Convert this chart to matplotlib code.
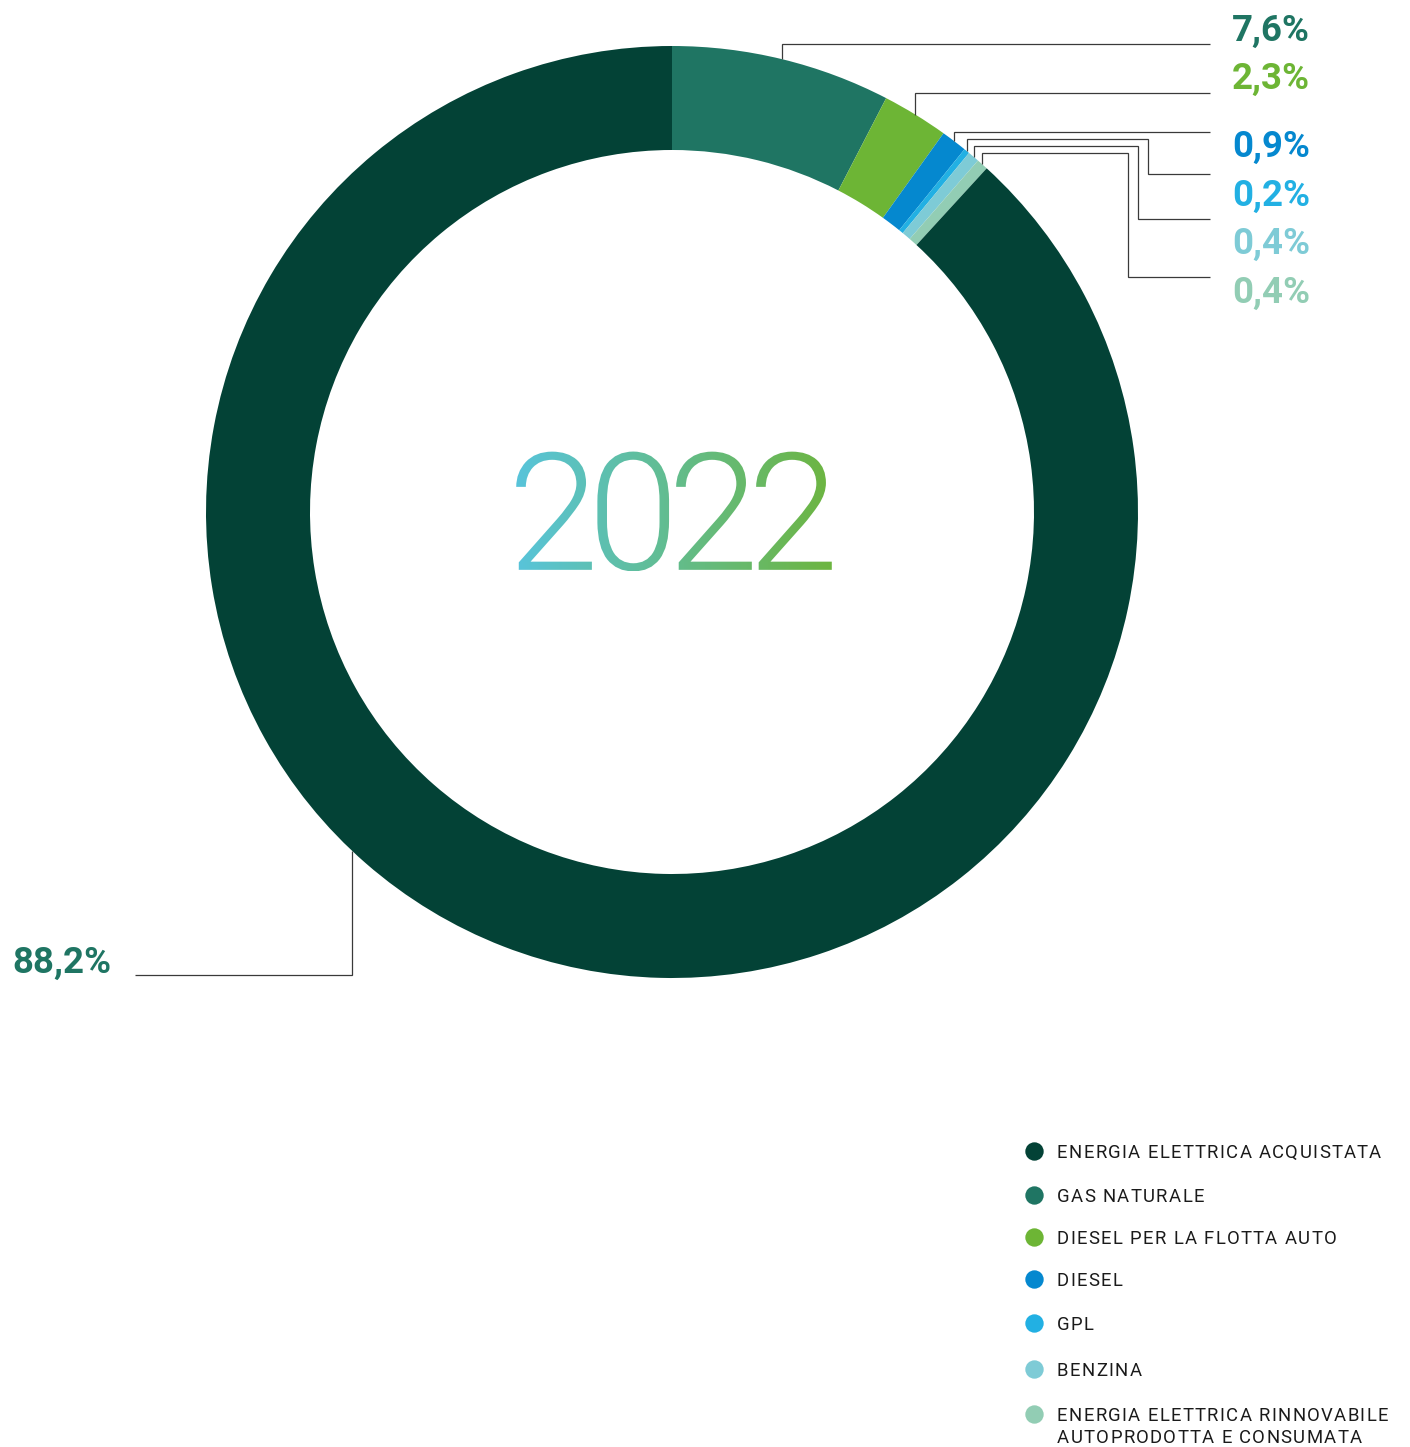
import numpy as np
import matplotlib.pyplot as plt
from matplotlib import font_manager
from matplotlib.colors import LinearSegmentedColormap
from matplotlib.font_manager import FontProperties
from matplotlib.ft2font import FT2Font
from matplotlib.patches import PathPatch
from matplotlib.path import Path
from matplotlib.textpath import TextPath
from matplotlib.transforms import Affine2D

# energy mix, share of total consumption (%)
categories = [
    "ENERGIA ELETTRICA ACQUISTATA",
    "GAS NATURALE",
    "DIESEL PER LA FLOTTA AUTO",
    "DIESEL",
    "GPL",
    "BENZINA",
    "ENERGIA ELETTRICA RINNOVABILE\nAUTOPRODOTTA E CONSUMATA",
]
shares = [88.2, 7.6, 2.3, 0.9, 0.2, 0.4, 0.4]
colors = ["#034236", "#1F7563", "#6DB535", "#0588CF", "#22B0E3", "#7ECBD6", "#92CDB4"]
label_colors = ["#1F7563", "#1F7563", "#6DB535", "#0588CF", "#22B0E3", "#7ECBD6", "#92CDB4"]
year = "2022"

# ring goes clockwise from 12 o'clock starting with the small sources
ring_order = [1, 2, 3, 4, 5, 6, 0]

W, H = 1410, 1447
DPI = 100
cx, cy = 672, H - 512
R, ring_w = 466, 104


def roboto_file(style_name):
    for f in font_manager.fontManager.ttflist:
        if f.fname.endswith("Roboto-" + style_name + ".ttf"):
            return f.fname
    return font_manager.findfont(FontProperties(family="Roboto"))


def advance_px(ft, ch, size_px):
    # horizontal advance of one glyph in pixels
    ft.set_size(size_px, 72)
    g = ft.load_char(ord(ch))
    return g.linearHoriAdvance / 65536


fig = plt.figure(figsize=(W / DPI, H / DPI), dpi=DPI)
ax = fig.add_axes([0, 0, 1, 1])

wedges, _ = ax.pie([shares[i] for i in ring_order],
                   colors=[colors[i] for i in ring_order],
                   startangle=90, counterclock=False, radius=R, center=(cx, cy),
                   wedgeprops=dict(width=ring_w, linewidth=0))
ax.set_xlim(0, W)
ax.set_ylim(0, H)
ax.set_aspect("equal")
ax.axis("off")


def fmt(v):
    return f"{v:.1f}".replace(".", ",") + "%"


def on_ring(theta):
    t = np.radians(theta)
    return cx + R * np.cos(t), cy + R * np.sin(t)


# leader lines (pixel rows measured from the top)
line_kw = dict(color="#3a3a3a", lw=0.9, solid_capstyle="butt", solid_joinstyle="miter")
rise_y = [44, 93, 132, 139, 146, 153]
knee_x = [None, None, None, 1148, 1138, 1128]
drop_y = [None, None, None, 174, 219, 277]
text_y = [31, 79, 147, 196, 244, 293]
end_x = 1210

bold = FontProperties(fname=roboto_file("Bold"), size=26.4)

for k, idx in enumerate(ring_order[:-1]):
    w = wedges[k]
    x0, y0 = on_ring((w.theta1 + w.theta2) / 2)
    xs = [x0, x0]
    ys = [y0, H - rise_y[k]]
    if knee_x[k] is not None:
        xs += [knee_x[k], knee_x[k]]
        ys += [H - rise_y[k], H - drop_y[k]]
        ys.append(H - drop_y[k])
    else:
        ys.append(H - rise_y[k])
    xs.append(end_x)
    ax.plot(xs, ys, **line_kw)
    ax.text(1232, H - text_y[k], fmt(shares[idx]), color=label_colors[idx],
            fontproperties=bold, ha="left", va="center")

# the big slice is labelled from the lower left
x0, y0 = on_ring(226.6)
ax.plot([x0, x0, 135], [y0, H - 975, H - 975], **line_kw)
ax.text(12, H - 963, fmt(shares[0]), color=label_colors[0],
        fontproperties=bold, ha="left", va="center")

# year in the middle: tightly set light digits filled with a blue-to-green gradient
light_path = roboto_file("Light")
light = FontProperties(fname=light_path)
ft_light = FT2Font(light_path)
year_size, year_track = 164, -11
pen = 0.0
glyphs = []
for ch in year:
    glyphs.append(TextPath((pen, 0), ch, size=year_size, prop=light))
    pen += advance_px(ft_light, ch, year_size) + year_track
tp = Path.make_compound_path(*glyphs)
bb = tp.get_extents()
tp = tp.transformed(Affine2D().translate(674 - (bb.x0 + bb.x1) / 2,
                                         (H - 511.5) - (bb.y0 + bb.y1) / 2))
bb = tp.get_extents()
patch = PathPatch(tp, facecolor="none", edgecolor="none")
ax.add_patch(patch)
grad = LinearSegmentedColormap.from_list("year", ["#58C4DA", "#6DB540"])
im = ax.imshow(np.linspace(0, 1, 256)[None, :], cmap=grad, aspect="auto",
               extent=(bb.x0, bb.x1, bb.y0, bb.y1), interpolation="bilinear")
im.set_clip_path(patch)

# legend, letter-spaced caps
leg_y = [1151, 1195, 1237, 1279, 1323, 1369, 1414]
leg_size = 13.3
tracking = 1.3
reg_path = roboto_file("Regular")
regular = FontProperties(fname=reg_path, size=leg_size)
ft_reg = FT2Font(reg_path)


def spaced_text(x, y, s):
    for ch in s:
        ax.text(x, y, ch, color="#1a1a1a", fontproperties=regular,
                ha="left", va="baseline")
        x += advance_px(ft_reg, ch, leg_size * DPI / 72) + tracking


for i, name in enumerate(categories):
    ax.scatter([1034], [H - leg_y[i]], s=175, color=colors[i], linewidths=0)
    for j, line in enumerate(name.split("\n")):
        spaced_text(1057, H - (leg_y[i] + 7 + 22 * j), line)

ax.set_xlim(0, W)
ax.set_ylim(0, H)
fig.savefig("out.png", dpi=DPI)
